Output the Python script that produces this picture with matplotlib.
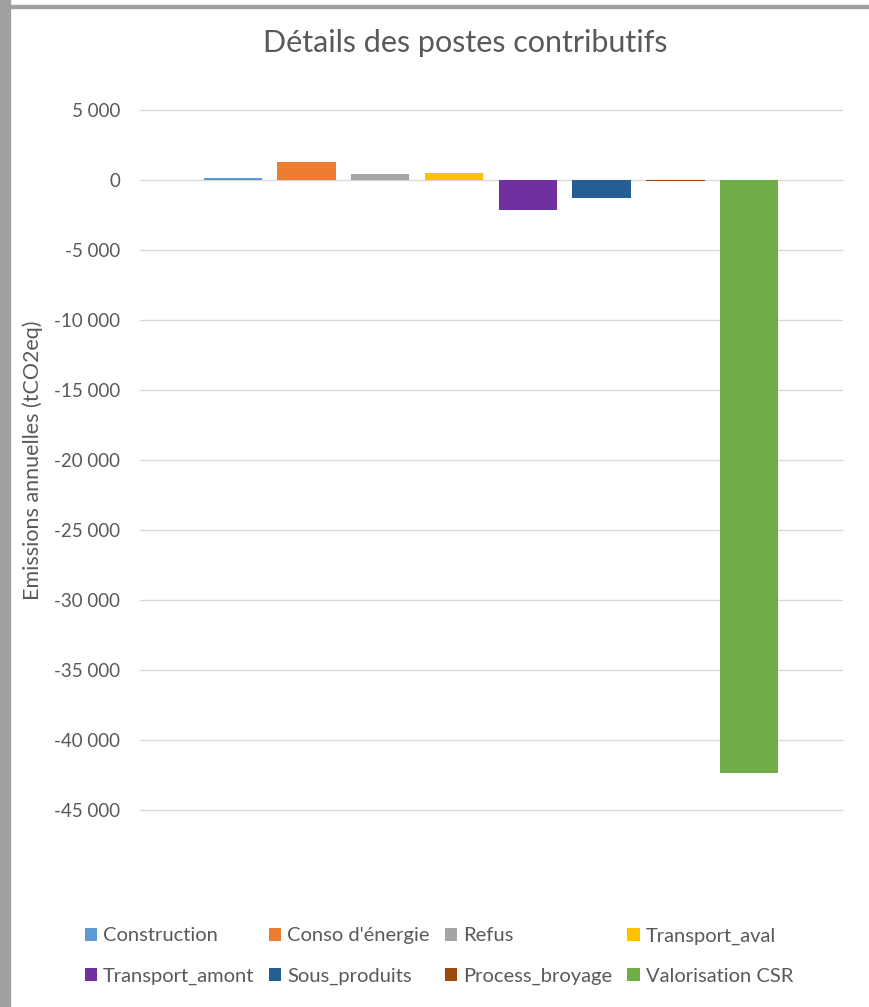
import matplotlib
matplotlib.use('Agg')
import matplotlib.pyplot as plt
from matplotlib.patches import Rectangle
from matplotlib.ticker import FuncFormatter

# Emissions by contributing item (tCO2eq / year)
postes = ['Construction', "Conso d'énergie", 'Refus', 'Transport_aval',
          'Transport_amont', 'Sous_produits', 'Process_broyage', 'Valorisation CSR']
emissions = [150, 1300, 400, 500, -2120, -1310, -80, -42350]
couleurs = ['#5B9BD5', '#ED7D31', '#A5A5A5', '#FFC000',
            '#7030A0', '#255E91', '#9E480E', '#70AD47']
yticks = list(range(5000, -45001, -5000))

plt.rcParams['font.family'] = ['Lato', 'DejaVu Sans']
gris_txt = '#595959'

fig = plt.figure(figsize=(8.69, 10.07), dpi=100)
ax = fig.add_axes([0.161, 0.1956, 0.808, 0.6952])

bars = []
for i in range(len(postes)):
    b = ax.bar(i, emissions[i], width=0.79, color=couleurs[i], label=postes[i], zorder=3)
    bars.append(b)

ax.set_xlim(-1.26, len(postes) - 1 + 1.26)
ax.set_ylim(-45000, 5000)
ax.set_yticks(yticks)
ax.yaxis.set_major_formatter(FuncFormatter(lambda v, p: f'{int(v):,}'.replace(',', ' ')))
ax.set_xticks([])
ax.grid(axis='y', color='#D9D9D9', linewidth=1, zorder=0)
for gl in ax.get_ygridlines():
    gl.set_clip_on(False)
for s in ax.spines.values():
    s.set_visible(False)
ax.tick_params(axis='y', length=0, labelsize=13.5, labelcolor=gris_txt, pad=14)
ax.set_ylabel('Emissions annuelles (tCO2eq)', fontsize=15.5, color=gris_txt)
ax.yaxis.set_label_coords(-0.138, 0.5)

fig.text(0.535, 0.957, 'Détails des postes contributifs', ha='center', va='center',
         fontsize=22, color=gris_txt)

# legend: 2 rows of 4, filled row by row
ordre = [0, 4, 1, 5, 2, 6, 3, 7]
leg = fig.legend([bars[i] for i in ordre], [postes[i] for i in ordre], ncol=4,
                 loc='center', bbox_to_anchor=(0.505, 0.0506), frameon=False,
                 fontsize=14.5, handlelength=0.6, handleheight=0.6, handletextpad=0.3,
                 columnspacing=0.75, labelspacing=1.15, borderpad=0)
for t in leg.get_texts():
    t.set_color(gris_txt)

# grey window borders
fig.patches.append(Rectangle((0, 0), 10 / 869, 1, transform=fig.transFigure,
                             color='#A0A0A0', zorder=0))
fig.patches.append(Rectangle((0, 1 - 8 / 1007), 1, 3 / 1007, transform=fig.transFigure,
                             color='#A0A0A0', zorder=0))

fig.savefig('out.png', dpi=100)
